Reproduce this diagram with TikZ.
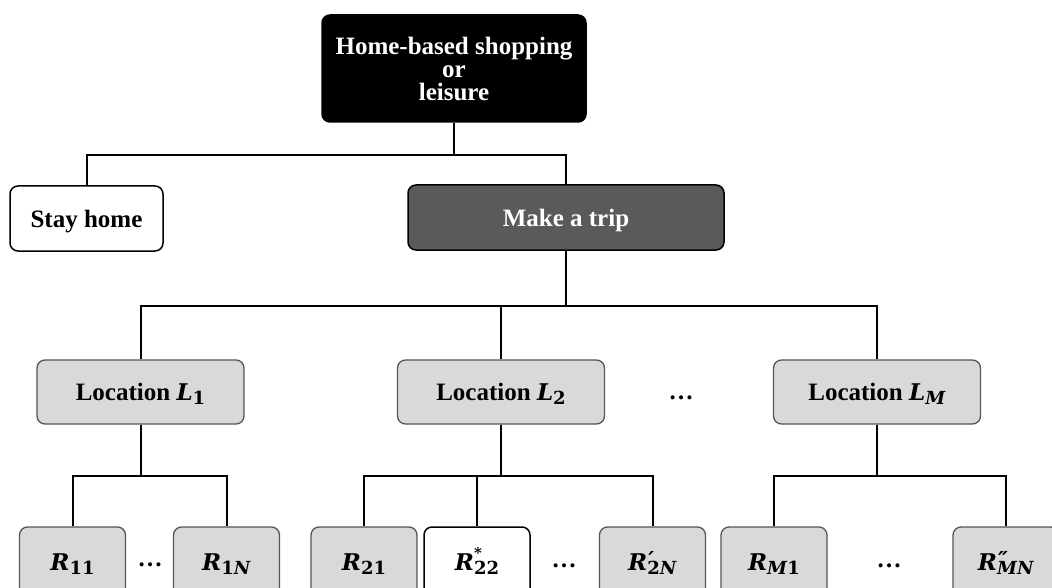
\documentclass[tikz,border=0pt]{standalone}
\usepackage{fontspec}
\setmainfont{Liberation Serif}
\newfontfamily\mathfnt{DejaVu Serif}
\definecolor{boxgray}{HTML}{D9D9D9}
\definecolor{tripgray}{HTML}{5A5A5A}
\definecolor{edgegray}{HTML}{555555}
% letter with superscript (#2) and subscript (#3)
\newcommand{\symb}[3]{{\mathfnt\bfseries\itshape\fontsize{23}{23}\selectfont #1}\rlap{\mathfnt\bfseries #2}\raisebox{-4pt}{\mathfnt\bfseries\fontsize{18}{18}\selectfont #3}}
\newcommand{\supstar}{\raisebox{12pt}{\fontsize{15}{15}\selectfont *}}
\newcommand{\supprime}[1]{\hspace{1pt}\raisebox{3pt}{\itshape\fontsize{22}{22}\selectfont #1}}
\begin{document}
\begin{tikzpicture}[x=1pt,y=-1pt,
  base/.style={rounded corners=8pt, inner sep=0pt, font=\fontsize{25}{23}\selectfont\bfseries},
  oneline/.style={base, text height=20pt, text depth=3pt},
  blackbox/.style={base, draw=black, fill=black, text=white, line width=1.5pt, align=center},
  tripbox/.style={oneline, draw=black, fill=tripgray, text=white, line width=1.5pt},
  whitebox/.style={oneline, draw=black, fill=white, line width=1.5pt},
  locbox/.style={oneline, draw=edgegray, fill=boxgray, line width=1.3pt, minimum width=207pt, minimum height=64pt},
  rbox/.style={oneline, draw=edgegray, fill=boxgray, line width=1.3pt, minimum width=106pt, minimum height=70pt},
  rwhite/.style={oneline, draw=black, fill=white, line width=1.5pt, minimum width=106pt, minimum height=70pt},
  dots/.style={font=\fontsize{25}{23}\selectfont\bfseries, inner sep=0pt},
  conn/.style={draw=black, line width=2pt}
]
\useasboundingbox (0,0) rectangle (1052,588);
\clip (0,0) rectangle (1052,588);

% level 0
\node[blackbox, minimum width=264pt, minimum height=107pt] (top) at (454,68.5) {Home-based shopping\\or\\leisure};
% level 1
\node[whitebox, minimum width=153pt, minimum height=65pt] (stay) at (86.5,218.5) {Stay home};
\node[tripbox, minimum width=316pt, minimum height=65pt] (trip) at (566,217.5) {Make a trip};
% level 2
\node[locbox] (L1) at (140.5,392) {Location \symb{L}{}{1}};
\node[locbox] (L2) at (501,392) {Location \symb{L}{}{2}};
\node[dots] (dL) at (681,398) {\ldots};
\node[locbox] (LM) at (877,392) {Location \symb{L}{}{\textit{M}}};
% level 3
\node[rbox] (R11) at (72.5,562) {\symb{R}{}{11}};
\node[dots] (d1) at (150,565) {\ldots};
\node[rbox] (R1N) at (226.5,562) {\symb{R}{}{1\textit{N}}};
\node[rbox] (R21) at (364,562) {\symb{R}{}{21}};
\node[rwhite] (R22) at (477,562) {\symb{R}{\supstar}{22}};
\node[dots] (d2) at (564,566) {\ldots};
\node[rbox] (R2N) at (652.5,562) {\symb{R}{\supprime{′}}{2\textit{N}}};
\node[rbox] (RM1) at (774,562) {\symb{R}{}{\textit{M}1}};
\node[dots] (d3) at (889,566) {\ldots};
\node[rbox] (RMN) at (1006,562) {\symb{R}{\supprime{″}}{\textit{MN}}};

% connectors
\draw[conn] (top.south) -- ++(0,32) -| (stay.north);
\draw[conn] (top.south) -- ++(0,32) -| (trip.north);
\draw[conn] (trip.south) -- ++(0,55) -| (L1.north);
\draw[conn] (trip.south) -- ++(0,55) -| (L2.north);
\draw[conn] (trip.south) -- ++(0,55) -| (LM.north);
\draw[conn] (L1.south) -- ++(0,51) -| (R11.north);
\draw[conn] (L1.south) -- ++(0,51) -| (R1N.north);
\draw[conn] (L2.south) -- ++(0,51) -| (R21.north);
\draw[conn] (L2.south) -- ++(0,51) -| (R22.north);
\draw[conn] (L2.south) -- ++(0,51) -| (R2N.north);
\draw[conn] (LM.south) -- ++(0,51) -| (RM1.north);
\draw[conn] (LM.south) -- ++(0,51) -| (RMN.north);
\end{tikzpicture}
\end{document}
